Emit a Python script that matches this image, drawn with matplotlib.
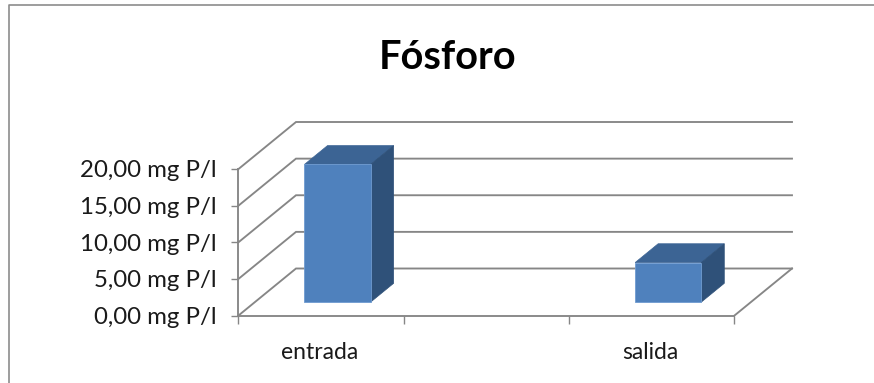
import matplotlib
matplotlib.use('Agg')
import matplotlib.pyplot as plt
from matplotlib.patches import Polygon

# Valores de fósforo por punto de muestreo (la categoría central va vacía)
categorias = ['entrada', '', 'salida']
valores = [18.8, None, 5.4]
ticks_y = [0, 5, 10, 15, 20]
etiquetas_y = ['0,00 mg P/l', '5,00 mg P/l', '10,00 mg P/l', '15,00 mg P/l', '20,00 mg P/l']

W, H = 874, 383
plt.rcParams['font.family'] = ['Lato', 'DejaVu Sans']

fig = plt.figure(figsize=(W / 100, H / 100), dpi=100, facecolor='white')

# Los ejes cubren solo el plano frontal del gráfico
x0, x1, y0, y1 = 238.5, 734.5, 315.5, 169
ax = fig.add_axes([x0 / W, 1 - y0 / H, (x1 - x0) / W, (y0 - y1) / H])
ax.set_xlim(0, len(categorias))
ax.set_ylim(0, 20)
ax.patch.set_visible(False)
for s in ax.spines.values():
    s.set_visible(False)

# Proyección oblicua: la profundidad d (0 a 1) desplaza hacia arriba y a la derecha
DX = 57.5 / ((x1 - x0) / len(categorias))
DY = 47 / ((y0 - y1) / 20)


def proy(x, v, d=0.0):
    return (x + DX * d, v + DY * d)


GRIS = '#868686'
lw = 1.35

# Líneas de la pared y el suelo
for t in ticks_y:
    p = [proy(0, t), proy(0, t, 1), proy(len(categorias), t, 1)]
    ax.plot(*zip(*p), color=GRIS, lw=lw, clip_on=False, zorder=1, solid_joinstyle='miter')
ax.plot(*zip(proy(3, 0), proy(3, 0, 1)), color=GRIS, lw=lw, clip_on=False, zorder=1)
ax.plot([0, 3], [0, 0], color=GRIS, lw=lw, clip_on=False, zorder=1)
ax.plot([0, 0], [0, 20], color=GRIS, lw=lw, clip_on=False, zorder=1)

# Barras en 3D: cara superior, lateral y frontal
ancho = 0.4
d0, d1 = 0.285, 0.685
for i, v in enumerate(valores):
    if v is None:
        continue
    a, b = i + 0.5 - ancho / 2, i + 0.5 + ancho / 2
    ax.add_patch(Polygon([proy(a, v, d0), proy(b, v, d0), proy(b, v, d1), proy(a, v, d1)],
                         fc='#3C6494', ec='#3C6494', lw=0.5, clip_on=False, zorder=3))
    ax.add_patch(Polygon([proy(b, 0, d0), proy(b, v, d0), proy(b, v, d1), proy(b, 0, d1)],
                         fc='#2F5179', ec='#2F5179', lw=0.5, clip_on=False, zorder=3))
    ax.add_patch(Polygon([proy(a, 0, d0), proy(b, 0, d0), proy(b, v, d0), proy(a, v, d0)],
                         fc='#4F81BD', ec='#6F9BD0', lw=0.6, clip_on=False, zorder=4))

# Marcas y etiquetas de los ejes
ax.set_xticks(range(len(categorias) + 1))
ax.set_xticklabels([])
ax.set_yticks(ticks_y)
ax.set_yticklabels(etiquetas_y, fontsize=17.3, color='#1a1a1a')
ax.tick_params(axis='y', length=5.2, width=1.0, color=GRIS, pad=10.5)
ax.tick_params(axis='x', length=5.5, width=1.0, color=GRIS)
for i, c in enumerate(categorias):
    if c:
        ax.annotate(c, (i + 0.5, 0), xytext=(-1, -19), textcoords='offset points',
                    ha='center', va='top', fontsize=16.5, color='#1a1a1a', annotation_clip=False)

fig.text(447.5 / W, 1 - 57.5 / H, 'Fósforo', ha='center', va='center',
         fontsize=28.6, fontweight='bold', color='black')

# Marco exterior, cortado por los bordes derecho e inferior
fig.add_artist(plt.Line2D([8.5 / W, 8.5 / W, 1], [0, 1 - 4.5 / H, 1 - 4.5 / H],
                          color='#8c8c8c', lw=1.2))

fig.savefig('out.png', dpi=100)
